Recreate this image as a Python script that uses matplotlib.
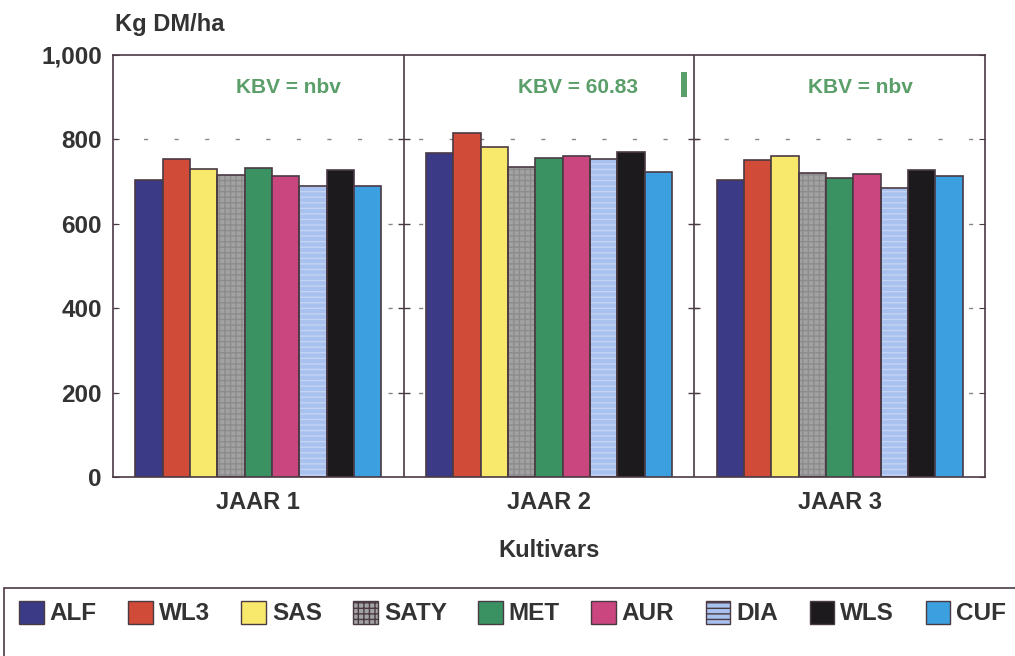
import numpy as np
import matplotlib.pyplot as plt
from matplotlib.patches import Rectangle, Patch

plt.rcParams['font.family'] = ['Liberation Sans', 'DejaVu Sans']
plt.rcParams['font.weight'] = 'bold'
plt.rcParams['axes.labelweight'] = 'bold'

# data
jaar = ["JAAR 1", "JAAR 2", "JAAR 3"]
kultivars = ["ALF", "WL3", "SAS", "SATY", "MET", "AUR", "DIA", "WLS", "CUF"]
alf = [704, 768, 704]
wl3 = [754, 814, 751]
sas = [730, 783, 761]
saty = [716, 735, 720]
met = [731, 755, 708]
aur = [713, 761, 717]
dia = [690, 753, 684]
wls = [728, 769, 727]
cuf = [690, 722, 713]
waardes = [alf, wl3, sas, saty, met, aur, dia, wls, cuf]
kbv_tekst = ["KBV = nbv", "KBV = 60.83", "KBV = nbv"]
kbv = 60.83
yticks = [0, 200, 400, 600, 800, 1000]
ytick_labels = ["0", "200", "400", "600", "800", "1,000"]

kleure = ["#3b3a86", "#d04b38", "#f8e86c", "#a2a2a2", "#3a9262",
          "#c9467f", "#a9c1ee", "#1c1a1c", "#3c9fe0"]
hatches = [None, None, None, "+++", None, None, "---", None, None]
hatch_kleur = {3: "#8c8c8c", 6: "#c4d4f4"}

rand = "#4a3a44"
teks = "#333333"
groen = "#5a9e6a"

fig = plt.figure(figsize=(10.15, 6.56), dpi=100)
ax = fig.add_axes([0.1113, 0.2729, 0.8591, 0.6433])

x = np.arange(len(jaar))
w = 0.094
for i, k in enumerate(kultivars):
    pos = x - 4 * w + i * w
    if hatches[i]:
        ax.bar(pos, waardes[i], width=w, color=kleure[i], hatch=hatches[i],
               edgecolor=hatch_kleur[i], linewidth=0, zorder=2)
        ax.bar(pos, waardes[i], width=w, fill=False, edgecolor=rand,
               linewidth=1.2, zorder=3)
    else:
        ax.bar(pos, waardes[i], width=w, color=kleure[i], edgecolor=rand,
               linewidth=1.2, zorder=3)

ax.set_xlim(-0.5, 2.5)
ax.set_ylim(0, 1000)
ax.set_yticks(yticks)
ax.set_yticklabels(ytick_labels)
ax.set_xticks(x)
ax.set_xticklabels(jaar)
ax.tick_params(axis='y', direction='in', right=True, length=4, color=rand,
               labelsize=17.5, labelcolor=teks, pad=8)
ax.tick_params(axis='x', length=0, labelsize=17, labelcolor=teks, pad=10)
# stippellyne agter die stawe
ax.hlines(yticks[1:-1], -0.5, 2.5, linestyles=[(0, (3, 19))], colors="#888888",
          linewidth=1, zorder=1)
for s in ax.spines.values():
    s.set_color(rand)
    s.set_linewidth(1.2)

# skeidings tussen jare
for d in [0.5, 1.5]:
    ax.axvline(d, color=rand, linewidth=1.2, zorder=4)
    ax.plot([d] * 4, yticks[1:-1], linestyle='none', marker='_',
            markersize=8, color=rand, zorder=4)

# KBV tekste
kbv_x = [0.105, 0.1, 0.07]
for i, t in enumerate(kbv_tekst):
    ax.text(x[i] + kbv_x[i], 922, t, color=groen, fontsize=15, ha='center', va='center')
ax.bar(1.465, kbv, bottom=900, width=0.02, color=groen, zorder=4)

ax.set_xlabel("Kultivars", fontsize=17, color=teks, labelpad=18)
fig.text(115 / 1015, 1 - 25 / 656, "Kg DM/ha", fontsize=17, color=teks,
         ha='left', va='center')

# legende
handles = [Patch(facecolor=kleure[i], edgecolor=rand, hatch=hatches[i], linewidth=1)
           for i in range(len(kultivars))]
leg = fig.legend(handles, kultivars, loc='center', ncol=9, frameon=False,
                 bbox_to_anchor=(0.505, 1 - 613 / 656), fontsize=17.5,
                 handlelength=1.0, handleheight=1.1, handletextpad=0.25,
                 columnspacing=1.3)
for t in leg.get_texts():
    t.set_color(teks)
fig.patches.append(Rectangle((4 / 1015, -0.05), 1.1, 1 - 588 / 656 + 0.05,
                             transform=fig.transFigure, fill=False,
                             edgecolor=rand, linewidth=1.2))

fig.savefig("out.png", dpi=100)
